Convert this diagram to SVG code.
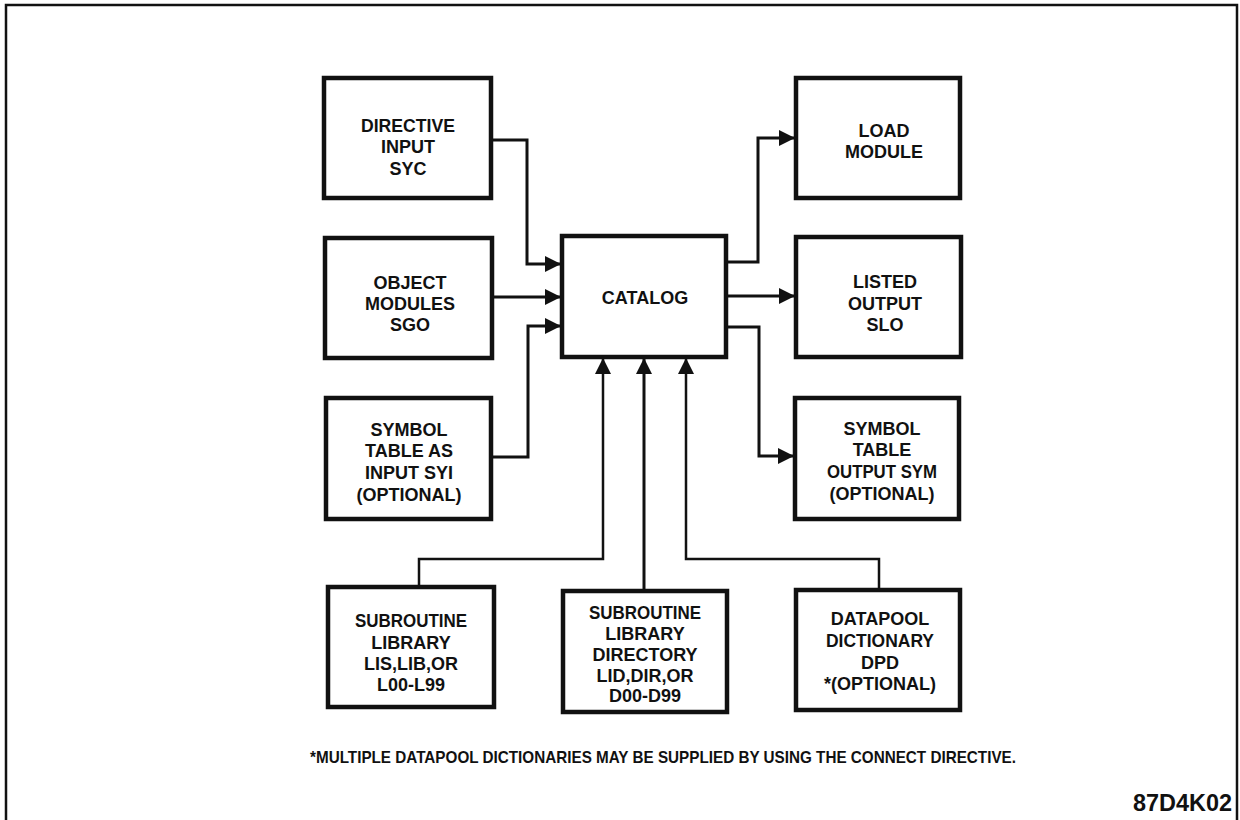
<svg xmlns="http://www.w3.org/2000/svg" width="1240" height="820" viewBox="0 0 1240 820">
  <style>
    .box { fill: #fff; stroke: #111; stroke-width: 4.5; }
    .lbl { font-family: "Liberation Sans", Arial, sans-serif; font-weight: bold; font-size: 18px; fill: #111; text-anchor: middle; }
    .wire { fill: none; stroke: #111; stroke-width: 3; }
    .thin { stroke-width: 2.5; }
    .frame { fill: none; stroke: #111; stroke-width: 2.5; }
  </style>
  <defs>
    <marker id="ah" viewBox="0 0 16 16" refX="15" refY="8" markerWidth="16" markerHeight="16" markerUnits="userSpaceOnUse" orient="auto">
      <path d="M0,0 L16,8 L0,16 z" fill="#111"/>
    </marker>
  </defs>

  <rect width="1240" height="820" fill="#fff"/>
  <!-- page frame (open at the bottom edge) -->
  <path class="frame" d="M6,820 V5 H1237 V820"/>

  <!-- connectors -->
  <g id="connectors">
    <path class="wire" d="M493,140 H527 V264 H560" marker-end="url(#ah)"/>
    <path class="wire" d="M494,297 H560" marker-end="url(#ah)"/>
    <path class="wire" d="M493,457 H528 V326 H560" marker-end="url(#ah)"/>
    <path class="wire" d="M728,262 H758 V138 H794" marker-end="url(#ah)"/>
    <path class="wire" d="M728,296 H794" marker-end="url(#ah)"/>
    <path class="wire" d="M728,327 H759 V456 H793" marker-end="url(#ah)"/>
    <path class="wire thin" d="M419,585 V559 H603 V359" marker-end="url(#ah)"/>
    <path class="wire" d="M644,589 V359" marker-end="url(#ah)"/>
    <path class="wire thin" d="M879,588 V559 H686 V359" marker-end="url(#ah)"/>
  </g>

  <g id="directive-input">
    <rect class="box" x="324" y="78" width="167" height="120"/>
    <text class="lbl" x="408" y="131.5" textLength="94" lengthAdjust="spacingAndGlyphs">DIRECTIVE</text>
    <text class="lbl" x="408" y="153">INPUT</text>
    <text class="lbl" x="408" y="174.5">SYC</text>
  </g>

  <g id="object-modules">
    <rect class="box" x="325" y="238" width="167" height="120"/>
    <text class="lbl" x="410" y="288.5">OBJECT</text>
    <text class="lbl" x="410" y="310">MODULES</text>
    <text class="lbl" x="410" y="331">SGO</text>
  </g>

  <g id="symbol-table-input">
    <rect class="box" x="326" y="398" width="165" height="121"/>
    <text class="lbl" x="409" y="435.5">SYMBOL</text>
    <text class="lbl" x="409" y="457">TABLE AS</text>
    <text class="lbl" x="409" y="478.5">INPUT SYI</text>
    <text class="lbl" x="409" y="500.5">(OPTIONAL)</text>
  </g>

  <g id="catalog">
    <rect class="box" x="562" y="236" width="164" height="121"/>
    <text class="lbl" x="645" y="304">CATALOG</text>
  </g>

  <g id="load-module">
    <rect class="box" x="796" y="78" width="164" height="120"/>
    <text class="lbl" x="884" y="137">LOAD</text>
    <text class="lbl" x="884" y="158">MODULE</text>
  </g>

  <g id="listed-output">
    <rect class="box" x="796" y="237" width="165" height="120"/>
    <text class="lbl" x="885" y="288">LISTED</text>
    <text class="lbl" x="885" y="310">OUTPUT</text>
    <text class="lbl" x="885" y="331">SLO</text>
  </g>

  <g id="symbol-table-output">
    <rect class="box" x="795" y="398" width="164" height="121"/>
    <text class="lbl" x="882" y="434.5">SYMBOL</text>
    <text class="lbl" x="882" y="455.5">TABLE</text>
    <text class="lbl" x="882" y="478" textLength="110" lengthAdjust="spacingAndGlyphs">OUTPUT SYM</text>
    <text class="lbl" x="882" y="500">(OPTIONAL)</text>
  </g>

  <g id="subroutine-library">
    <rect class="box" x="328" y="587" width="166" height="120"/>
    <text class="lbl" x="411" y="627" textLength="112" lengthAdjust="spacingAndGlyphs">SUBROUTINE</text>
    <text class="lbl" x="411" y="648.5">LIBRARY</text>
    <text class="lbl" x="411" y="670">LIS,LIB,OR</text>
    <text class="lbl" x="411" y="690.5">L00-L99</text>
  </g>

  <g id="subroutine-library-directory">
    <rect class="box" x="563" y="591" width="164" height="121"/>
    <text class="lbl" x="645" y="618.5" textLength="112" lengthAdjust="spacingAndGlyphs">SUBROUTINE</text>
    <text class="lbl" x="645" y="639.5">LIBRARY</text>
    <text class="lbl" x="645" y="660.5">DIRECTORY</text>
    <text class="lbl" x="645" y="682">LID,DIR,OR</text>
    <text class="lbl" x="645" y="702">D00-D99</text>
  </g>

  <g id="datapool-dictionary">
    <rect class="box" x="796" y="590" width="164" height="120"/>
    <text class="lbl" x="880" y="625">DATAPOOL</text>
    <text class="lbl" x="880" y="647" textLength="108" lengthAdjust="spacingAndGlyphs">DICTIONARY</text>
    <text class="lbl" x="880" y="668.5">DPD</text>
    <text class="lbl" x="880" y="690">*(OPTIONAL)</text>
  </g>

  <text class="lbl" x="663" y="763" style="font-size:17px" textLength="706" lengthAdjust="spacingAndGlyphs">*MULTIPLE DATAPOOL DICTIONARIES MAY BE SUPPLIED BY USING THE CONNECT DIRECTIVE.</text>
  <text class="lbl" x="1182.5" y="811" style="font-size:24px" textLength="99" lengthAdjust="spacingAndGlyphs">87D4K02</text>
</svg>
